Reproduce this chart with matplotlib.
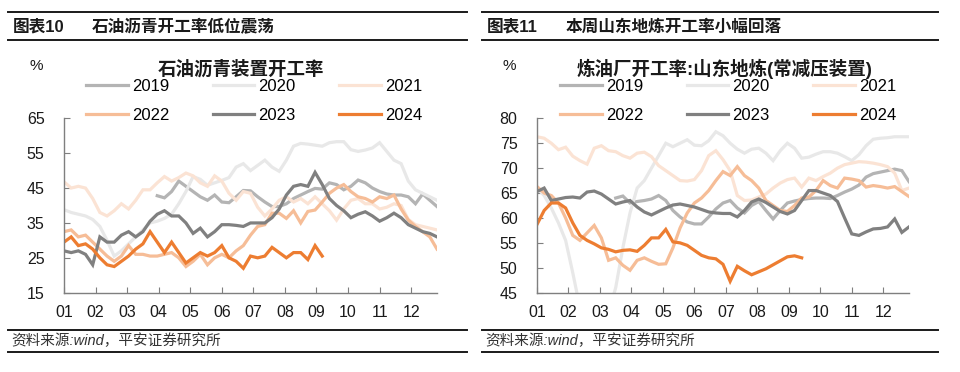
import numpy as np
import matplotlib
matplotlib.use("Agg")
import matplotlib.pyplot as plt
from matplotlib.lines import Line2D

plt.rcParams['font.family'] = ['Liberation Sans', 'Noto Sans CJK SC']

years = ['2019', '2020', '2021', '2022', '2023', '2024']
colors = ['#b4b4b4', '#e8e8e8', '#fbe3d4', '#f6bd97', '#808080', '#ed7d31']
months = ['01', '02', '03', '04', '05', '06', '07', '08', '09', '10', '11', '12']

# 石油沥青装置开工率 (weekly, %)
asph_2019 = [None] * 13 + [42.8, 42.2, 44, 47, 45.5, 44, 42.5, 41.5, 43, 41,
                           40.8, 42.5, 44.3, 44.2, 42.5, 41, 39.7, 39.7, 40.5, 42,
                           43, 44, 44.9, 44.7, 46.5, 46, 44.5, 45.5, 47.3, 46.5,
                           45, 44, 43.3, 43, 43, 42.5, 40.5, 43.3, 41.5, 39.7]
asph_2020 = [38.8, 38, 37.5, 37, 36, 34, 30, 25.5, 27, 29,
             31, 33, 35, 35.5, 36.3, 37.5, 40.5, 44, 48.3, 47.5,
             45.8, 46.5, 47.2, 48, 51, 52, 50, 51.5, 53, 51,
             49.8, 53, 57, 57.8, 57.6, 57.3, 57, 58, 58.3, 58.3,
             56, 55.5, 55.9, 56.5, 58, 55.5, 53, 52, 47, 44.5,
             43.5, 42.5, 41.5]
asph_2021 = [46.8, 45, 45.5, 45, 42, 38, 37, 38.5, 40.5, 39,
             41.5, 44.5, 44.5, 46.5, 48.3, 47, 48, 49.3, 48.5, 46.5,
             45.5, 48.5, 47, 43.5, 41.5, 44, 43.5, 39.5, 37, 39,
             41.5, 42.5, 41, 42, 40.5, 42.5, 40.5, 38.5, 35.8, 39,
             41.5, 42, 40.5, 40.5, 39, 39.5, 40.5, 40, 36, 34.5,
             34, 33.5, 33]
asph_2022 = [32.5, 33, 31, 31.5, 29.5, 27.5, 25.5, 24, 25.5, 28.5,
             26, 26, 25.5, 25.5, 26, 26.5, 25, 22.5, 24, 26,
             23, 25, 26, 25, 27, 28.5, 31.5, 34, 34.5, 37.8,
             37.8, 36.3, 38.5, 35, 38.3, 38.7, 41, 43.5, 45, 46,
             44, 42.5, 42, 41, 42.5, 42, 43, 39, 35.8, 34,
             32.5, 31, 27.5]
asph_2023 = [27, 26.5, 27, 26, 23, 31, 29.5, 29.5, 31.5, 32.5,
             31, 32.5, 35.5, 37.5, 38.5, 37, 37, 35, 32, 33.5,
             31, 32.5, 34.5, 34.5, 34.3, 34, 35, 35, 35, 36.5,
             39, 43, 45.5, 46, 45.5, 49.5, 46, 42, 40, 38.5,
             36.5, 37.5, 38.2, 37, 35.5, 36.5, 37.8, 36.5, 34.5, 33.5,
             32.5, 32, 31]
asph_2024 = [29.5, 31, 28.5, 29, 27.5, 25, 23, 22.5, 24, 25.5,
             27.5, 29, 32.5, 29.5, 26.5, 29.5, 26.5, 23.5, 25, 26.5,
             25.5, 26.5, 28.5, 25, 24, 22, 25.5, 25, 25.5, 28,
             26.5, 25, 26.5, 26.5, 24.5, 28.5, 25.5]

# 炼油厂开工率:山东地炼(常减压装置) (weekly, %)
sd_2019 = [None] * 11 + [64, 64.4, 63, 63.3, 63.5, 63.8, 64.5, 63.5, 61.5, 60.2,
                         59.2, 58.8, 58.8, 60.2, 61.8, 63, 63.5, 62, 61, 62.5,
                         63.3, 61.5, 59.8, 61.5, 63, 63.4, 63.7, 63.9, 64, 64,
                         63.9, 64.5, 65.2, 65.8, 66.6, 68.2, 68.9, 69.2, 69.5, 69.8,
                         69.5, 67.3]
sd_2020 = [66, 64.5, 62, 59, 55.5, 49, 42, 37, 35, 37,
           41, 46, 54, 61, 66, 67.5, 70, 72.5, 75, 74.3,
           75, 75.7, 74.6, 74.5, 75.5, 77.3, 76.5, 75, 73.8, 73,
           73.8, 74, 73, 71.5, 73.5, 75, 74, 72, 72.2, 72.8,
           73.3, 73.3, 73, 72.3, 71.5, 72.7, 74.5, 75.8, 76, 76.1,
           76.3, 76.3, 76.3]
sd_2021 = [76.3, 76, 75, 73.7, 74.2, 72.4, 71.5, 70.8, 74, 74.5,
           73.5, 73.3, 72.5, 72, 73, 73.2, 72.3, 70.5, 69.5, 68.5,
           67.5, 67.4, 67.7, 69.5, 72.5, 73.5, 71.7, 69.5, 64.5, 63.5,
           63.6, 64.2, 64.8, 66, 67, 67.7, 68, 66.2, 68, 67.5,
           68.3, 69, 70, 70.7, 71, 71.3, 71.2, 71, 70.7, 70.3,
           69, 65.5, 66]
sd_2022 = [66.3, 65, 64.5, 63, 60, 56.5, 55.5, 57, 58.5, 56,
           51.5, 52, 50.5, 49.5, 51.5, 52, 51.3, 50.7, 50.8, 54,
           58, 61, 63, 64, 65.5, 67.5, 69.3, 68.5, 70.3, 68.5,
           67.5, 66, 63.5, 62.5, 61.5, 61.3, 62.5, 64, 64.2, 65.5,
           67.5, 66.5, 66, 68, 67.8, 67.5, 66.2, 66.5, 66.3, 66,
           66.3, 65.3, 64.3]
sd_2023 = [65.3, 66, 63.5, 63.8, 64.1, 64.2, 64, 65.2, 65.4, 64.8,
           63.8, 62.8, 63.2, 63.5, 62.2, 61.2, 60.6, 61.3, 62, 62.6,
           62.8, 62.5, 62.2, 61.7, 61.2, 61, 60.9, 60.9, 60.2, 61.5,
           63.2, 63.8, 63.1, 62.2, 61.3, 60.8, 61.5, 63.5, 65.5, 65.5,
           65, 64.5, 63.3, 60, 56.8, 56.5, 57.2, 57.8, 57.9, 58.2,
           59.8, 57.1, 58.2]
sd_2024 = [58.7, 61.5, 63, 63, 62, 59, 56.5, 55.5, 54.8, 54,
           53.7, 53.2, 53.5, 53.6, 53.3, 54.5, 56, 56, 57.7, 55.2,
           55, 54.5, 53.5, 52.5, 52, 51.8, 50.7, 47.3, 50.3, 49.4,
           48.6, 49.2, 49.8, 50.6, 51.4, 52.2, 52.4, 52]


def draw_panel(fig, rect, series, ylim, yticks):
    ax = fig.add_axes(rect)
    lines = []
    for vals, col, lab in zip(series, colors, years):
        y = np.array([np.nan if v is None else v for v in vals], dtype=float)
        ln, = ax.plot(np.arange(len(y)), y, color=col, lw=2.3, label=lab,
                      solid_joinstyle='miter')
        lines.append(ln)
    ax.set_xlim(0, 52)
    ax.set_ylim(*ylim)
    ax.set_yticks(yticks)
    ax.set_xticks(np.arange(12) * 4.4)
    ax.set_xticklabels(months)
    for s in ['top', 'right']:
        ax.spines[s].set_visible(False)
    for s in ['left', 'bottom']:
        ax.spines[s].set_color('#7f7f7f')
        ax.spines[s].set_linewidth(1.0)
    ax.tick_params(direction='in', length=4, color='#7f7f7f', labelsize=11.5,
                   labelcolor='#1a1a1a')
    ax.tick_params(axis='x', pad=9)
    ax.tick_params(axis='y', pad=14)
    return ax, lines


fig = plt.figure(figsize=(9.6, 3.72), dpi=100)
W, H = 960.0, 372.0


def fx(px):
    return px / W


def fy(py):
    return 1 - py / H


def hline(x0, x1, y, lw):
    fig.add_artist(Line2D([fx(x0), fx(x1)], [fy(y), fy(y)], color='#1a1a1a',
                          lw=lw, transform=fig.transFigure))


panels = [
    dict(x0=8, x1=467, rect=[64 / W, 1 - 292.7 / H, 373 / W, 174.4 / H],
         num='图表10', head='石油沥青开工率低位震荡', title='石油沥青装置开工率',
         tcx=241, series=[asph_2019, asph_2020, asph_2021, asph_2022, asph_2023, asph_2024],
         ylim=(15, 65), yticks=[15, 25, 35, 45, 55, 65], pct_x=36, leg_x=86),
    dict(x0=482, x1=938, rect=[537 / W, 1 - 292.7 / H, 372 / W, 174.4 / H],
         num='图表11', head='本周山东地炼开工率小幅回落', title='炼油厂开工率:山东地炼(常减压装置)',
         tcx=725, series=[sd_2019, sd_2020, sd_2021, sd_2022, sd_2023, sd_2024],
         ylim=(45, 80), yticks=[45, 50, 55, 60, 65, 70, 75, 80], pct_x=509, leg_x=560),
]

for p in panels:
    hline(p['x0'], p['x1'], 12, 1.4)
    hline(p['x0'], p['x1'], 40, 1.4)
    hline(p['x0'], p['x1'], 330, 1.4)
    hline(p['x0'], p['x1'], 351.5, 1.4)
    fig.text(fx(p['x0'] + 5), fy(27), p['num'], fontsize=12, fontweight='bold',
             va='center', ha='left', color='#1a1a1a')
    fig.text(fx(p['x0'] + 84), fy(27), p['head'], fontsize=12, fontweight='bold',
             va='center', ha='left', color='#1a1a1a')
    fig.text(fx(p['x0'] + 3), fy(341), '资料来源:wind，平安证券研究所', fontsize=10.5,
             style='italic', va='center', ha='left', color='#333333')

    ax, lines = draw_panel(fig, p['rect'], p['series'], p['ylim'], p['yticks'])
    fig.text(fx(p['pct_x']), fy(66), '%', fontsize=11, ha='center', va='center',
             color='#1a1a1a')
    fig.text(fx(p['tcx']), fy(69), p['title'], fontsize=13.3, fontweight='bold',
             ha='center', va='center', color='#1a1a1a')
    order = [0, 3, 1, 4, 2, 5]
    ax.legend([lines[i] for i in order], [years[i] for i in order], ncol=3,
              loc='upper left', bbox_to_anchor=(fx(p['leg_x']), fy(79)),
              bbox_transform=fig.transFigure, frameon=False, fontsize=12,
              handlelength=2.5, handletextpad=0.25, columnspacing=2.6,
              labelspacing=0.85, borderpad=0, borderaxespad=0)

fig.savefig('out.png', dpi=100)
